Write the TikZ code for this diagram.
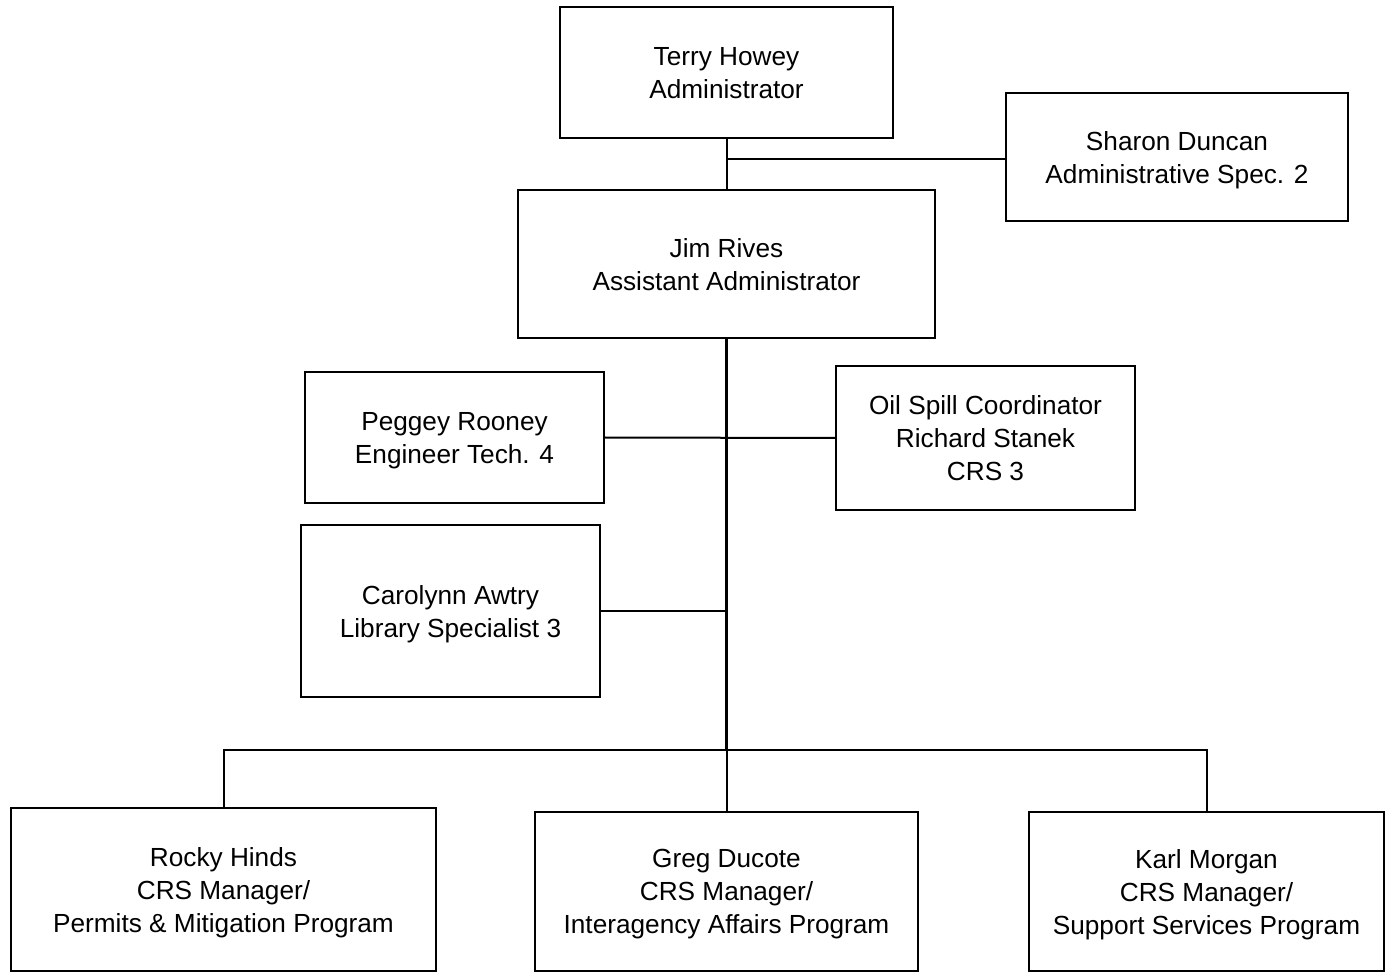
\documentclass[tikz,border=0pt]{standalone}
\usepackage{fontspec}
\setmainfont{Liberation Sans}
\newcommand\orgbox[6]{%
  \node[box,minimum width=#4,minimum height=#5] (#1) at (#2,#3) {};
  \node[lbl] (#1-text) at ([yshift=-1.6pt]#1.center) {#6\rule[-3pt]{0pt}{3pt}};}
\begin{document}
\begin{tikzpicture}[x=0.5pt,y=-0.5pt,
  box/.style={draw=black,line width=1pt,fill=white,inner sep=0pt},
  lbl/.style={inner sep=0pt,align=center,font=\fontsize{13.1}{16.5}\selectfont},
  conn/.style={draw=black,line width=1pt},
  trunk/.style={draw=black,line width=1.6pt}]
\useasboundingbox (0,0) rectangle (1394,973);
\orgbox{T}{726.5}{72.5}{166.5pt}{65.5pt}{Terry Howey\\Administrator}
\orgbox{S}{1177}{157}{171pt}{64pt}{Sharon Duncan\\Administrative Spec. 2}
\orgbox{J}{726.5}{264}{208.5pt}{74pt}{Jim Rives\\Assistant Administrator}
\orgbox{P}{454.5}{437.5}{149.5pt}{65.5pt}{Peggey Rooney\\Engineer Tech. 4}
\orgbox{O}{985.5}{438}{149.5pt}{72pt}{Oil Spill Coordinator\\Richard Stanek\\CRS 3}
\orgbox{C}{450.5}{611}{149.5pt}{86pt}{Carolynn Awtry\\Library Specialist 3}
\orgbox{R}{223.5}{889.5}{212.5pt}{81.5pt}{Rocky Hinds\\CRS Manager/\\Permits \& Mitigation Program}
\orgbox{G}{726.5}{891.5}{191.5pt}{79.5pt}{Greg Ducote\\CRS Manager/\\Interagency Affairs Program}
\orgbox{K}{1206.5}{891.5}{177.5pt}{79.5pt}{Karl Morgan\\CRS Manager/\\Support Services Program}
\coordinate (a1) at (726.5,159);
\coordinate (bus) at (726.5,750);
\draw[conn] (T.south) -- (J.north);
\draw[conn] (a1) -- (a1 -| S.west);
\draw[trunk] (J.south) -- (bus);
\draw[conn] (P.east) -- (O.west);
\draw[conn] (C.east) -- (C.east -| J.south);
\draw[conn] (R.north) |- (bus) -| (K.north);
\draw[conn] (bus) -- (G.north);
\end{tikzpicture}
\end{document}
